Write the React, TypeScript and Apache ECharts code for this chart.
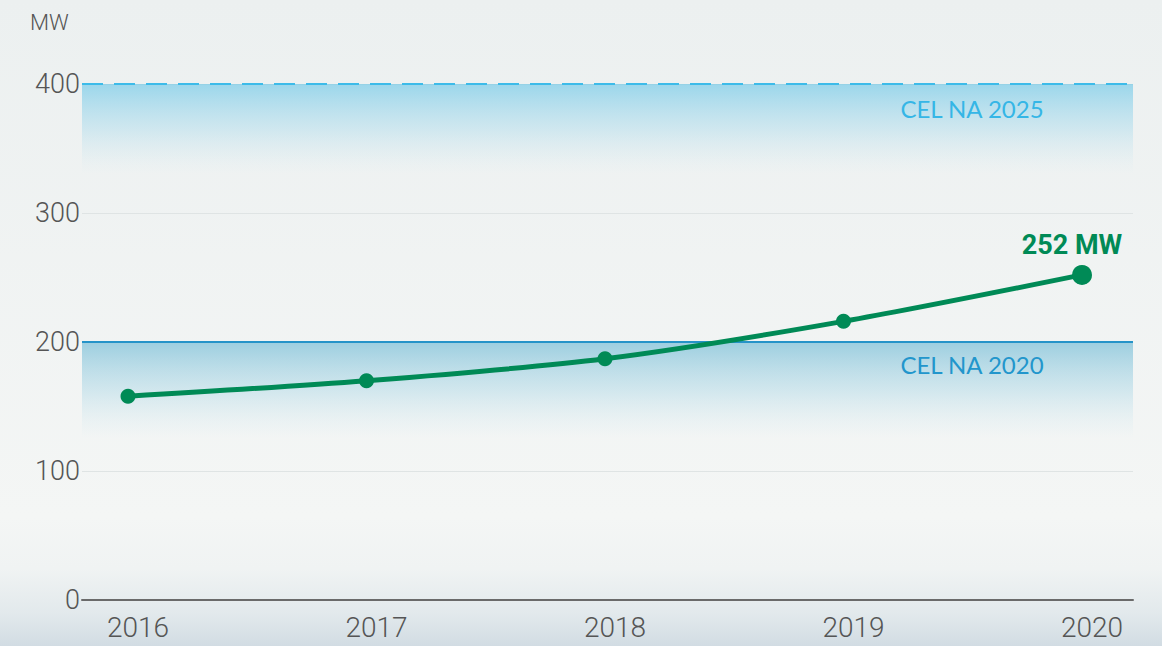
import React, { useEffect, useRef } from "react";
import * as echarts from "echarts";

const years = [2016, 2017, 2018, 2019, 2020];
const capacityMW = [158, 170, 187, 216, 252];
const yTicks = [0, 100, 200, 300, 400];
const target2020 = 200;
const target2025 = 400;
const targetLabels = ["CEL NA 2020", "CEL NA 2025"];
const unitLabel = "MW";

export default function App() {
  const ref = useRef<HTMLDivElement>(null);
  useEffect(() => {
    document.body.style.margin = "0";
    const chart = echarts.init(ref.current!, null, { renderer: "svg" });
    const data = years.map((y, i) => {
      const last = i === years.length - 1;
      return {
        value: [y, capacityMW[i]],
        symbolSize: last ? 20 : 15,
        label: last
          ? {
              show: true,
              position: "top",
              offset: [-10, -1],
              formatter: () => `${capacityMW[i]} ${unitLabel}`,
              color: "#008a56",
              fontFamily: "Roboto, Lato, sans-serif",
              fontWeight: "bold",
              fontSize: 27,
            }
          : { show: false },
      };
    });
    chart.setOption({
      animation: false,
      backgroundColor: {
        type: "linear",
        x: 0,
        y: 0,
        x2: 0,
        y2: 1,
        colorStops: [
          { offset: 0, color: "#ecf0f0" },
          { offset: 0.8, color: "#f4f6f5" },
          { offset: 0.88, color: "#f0f3f3" },
          { offset: 0.95, color: "#e2e9ec" },
          { offset: 1, color: "#d2dce3" },
        ],
      },
      grid: { left: 82, right: 29, top: 84, bottom: 46, containLabel: false },
      xAxis: {
        type: "value",
        min: 2015.8071,
        max: 2020.2138,
        axisLine: { show: true, onZero: false, lineStyle: { color: "#6a6a6a", width: 2 } },
        axisTick: { show: false },
        splitLine: { show: false },
        axisLabel: {
          customValues: years,
          formatter: (v: number) => String(v),
          color: "#555",
          fontFamily: "Roboto, sans-serif",
          fontWeight: 300,
          fontSize: 28,
          margin: 13,
          padding: [0, 0, 0, 20],
        },
      },
      yAxis: {
        type: "value",
        min: yTicks[0],
        max: yTicks[yTicks.length - 1],
        interval: 100,
        axisLine: { show: false },
        axisTick: { show: false },
        splitLine: { show: true, lineStyle: { color: "#dfe4e4", width: 1 } },
        axisLabel: {
          color: "#555",
          fontFamily: "Roboto, sans-serif",
          fontWeight: 300,
          fontSize: 27,
          margin: 2,
        },
      },
      graphic: [
        {
          type: "text",
          left: 30,
          top: 11,
          style: {
            text: unitLabel,
            fill: "#555",
            font: "300 22px Roboto, sans-serif",
          },
        },
        {
          type: "text",
          x: 972,
          y: 108,
          style: {
            text: targetLabels[1],
            fill: "#35b6e6",
            font: "24px Lato, sans-serif",
            textAlign: "center",
            textVerticalAlign: "middle",
          },
          z: 10,
        },
        {
          type: "text",
          x: 972,
          y: 364,
          style: {
            text: targetLabels[0],
            fill: "#2296cc",
            font: "24px Lato, sans-serif",
            textAlign: "center",
            textVerticalAlign: "middle",
          },
          z: 10,
        },
      ],
      series: [
        {
          type: "line",
          data,
          smooth: 0.3,
          symbol: "circle",
          lineStyle: { color: "#008a56", width: 5 },
          itemStyle: { color: "#008a56" },
          z: 5,
          markArea: {
            silent: true,
            data: [
              [
                {
                  yAxis: target2025,
                  itemStyle: {
                    color: {
                      type: "linear",
                      x: 0,
                      y: 0,
                      x2: 0,
                      y2: 1,
                      colorStops: [
                        { offset: 0, color: "rgba(110,200,232,0.65)" },
                        { offset: 0.5, color: "rgba(150,212,235,0.35)" },
                        { offset: 1, color: "rgba(200,230,240,0)" },
                      ],
                    },
                  },
                },
                { yAxis: target2025 - 70 },
              ],
              [
                {
                  yAxis: target2020,
                  itemStyle: {
                    color: {
                      type: "linear",
                      x: 0,
                      y: 0,
                      x2: 0,
                      y2: 1,
                      colorStops: [
                        { offset: 0, color: "rgba(120,190,215,0.7)" },
                        { offset: 0.5, color: "rgba(160,210,228,0.4)" },
                        { offset: 1, color: "rgba(200,230,240,0)" },
                      ],
                    },
                  },
                },
                { yAxis: target2020 - 75 },
              ],
            ],
          },
          markLine: {
            silent: true,
            symbol: "none",
            label: { show: false },
            data: [
              { yAxis: target2025, lineStyle: { color: "#3dbbe9", width: 2, type: [21, 11] } },
              { yAxis: target2020, lineStyle: { color: "#2593c8", width: 2, type: "solid" } },
            ],
          },
        },
      ],
    });
    return () => chart.dispose();
  }, []);
  return <div ref={ref} style={{ width: 1162, height: 646 }} />;
}
